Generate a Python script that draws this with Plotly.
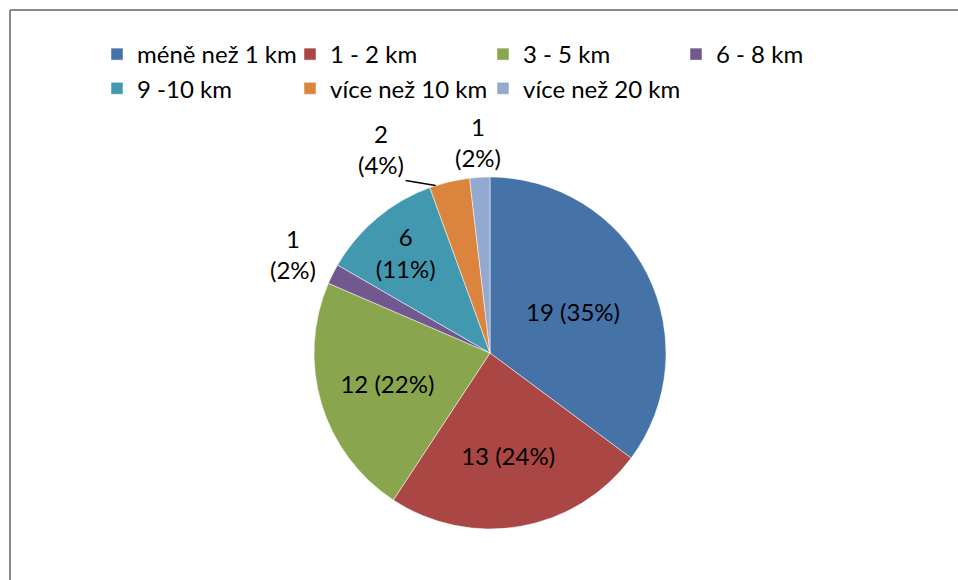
import math
import plotly.graph_objects as go

labels = ["méně než 1 km", "1 - 2 km", "3 - 5 km", "6 - 8 km",
          "9 -10 km", "více než 10 km", "více než 20 km"]
values = [19, 13, 12, 1, 6, 2, 1]
colors = ["#4572A7", "#AA4643", "#89A54E", "#71588F",
          "#4198AF", "#DB843D", "#93A9CF"]
text_pos = ["inside", "inside", "inside", "none", "inside", "none", "none"]
templates = ["%{value} (%{percent:.0%})", "%{value} (%{percent:.0%})",
             "%{value} (%{percent:.0%})", "", "%{value}<br>(%{percent:.0%})",
             "", ""]

W, H = 958, 580
cx, cy, r = 490, 353, 176
FONT = "Lato, 'Open Sans', sans-serif"

fig = go.Figure(go.Pie(
    labels=labels,
    values=values,
    sort=False,
    direction="clockwise",
    rotation=0,
    marker=dict(colors=colors, line=dict(color="white", width=0.5)),
    textposition=text_pos,
    texttemplate=templates,
    insidetextorientation="horizontal",
    textfont=dict(color="black", size=24),
    hoverinfo="label+value+percent",
    domain=dict(x=[(cx - r) / W, (cx + r) / W],
                y=[1 - (cy + r) / H, 1 - (cy - r) / H]),
))

# labels of the thin slices sit outside the pie, like in Excel
total = sum(values)
outside = {3: dict(dist=1.25, frac=0.5, arrow=False),
           5: dict(dist=1.0, frac=0.15, arrow=True, ax=-30, ay=-5),
           6: dict(dist=1.2, frac=0.5, arrow=False)}
annotations = []
cum = 0
for i, v in enumerate(values):
    o = outside.get(i)
    if o:
        ang = (cum + v * o["frac"]) / total * 2 * math.pi
        px = cx + o["dist"] * r * math.sin(ang)
        py = cy - o["dist"] * r * math.cos(ang)
        pct = round(v / total * 100)
        a = dict(x=px / W, y=1 - py / H, xref="paper", yref="paper",
                 text=f"{v}<br>({pct}%)", align="center",
                 font=dict(family=FONT, size=24, color="black"))
        if o["arrow"]:
            a.update(showarrow=True, arrowhead=0, arrowwidth=1.5,
                     arrowcolor="black", ax=o["ax"], ay=o["ay"],
                     xanchor="right", yanchor="bottom")
        else:
            a.update(showarrow=False, xanchor="center", yanchor="middle")
        annotations.append(a)
    cum += v

fig.update_layout(
    width=W, height=H,
    margin=dict(l=0, r=0, t=0, b=0),
    paper_bgcolor="white",
    font=dict(family=FONT, size=24, color="black"),
    legend=dict(
        orientation="h",
        x=97 / W, xanchor="left",
        y=1 - 32 / H, yanchor="top",
        entrywidth=148, entrywidthmode="pixels",
        bgcolor="rgba(0,0,0,0)",
        font=dict(size=24),
        traceorder="normal",
    ),
    annotations=annotations,
    shapes=[
        dict(type="line", xref="paper", yref="paper",
             x0=10 / W, x1=1, y0=1 - 10 / H, y1=1 - 10 / H,
             line=dict(color="#8a8a8a", width=2)),
        dict(type="line", xref="paper", yref="paper",
             x0=10 / W, x1=10 / W, y0=0, y1=1 - 10 / H,
             line=dict(color="#8a8a8a", width=2)),
    ],
)

fig.write_html("out.html", config={"displayModeBar": False},
               post_script="document.body.style.margin='0';")
